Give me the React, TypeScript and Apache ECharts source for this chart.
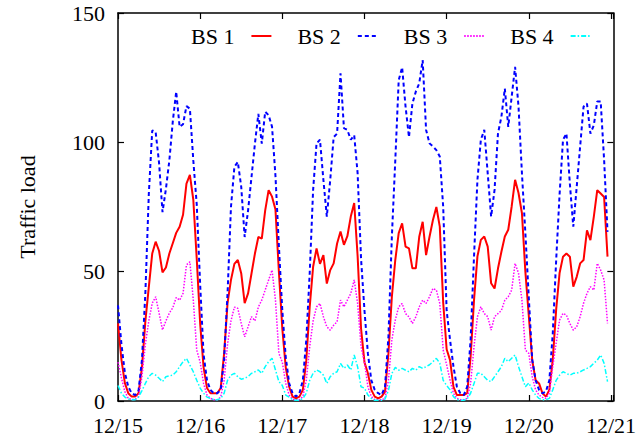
import React, { useEffect, useRef } from "react";
import * as echarts from "echarts";

// Hourly samples, 12/15 00:00 onwards (one row per day)
const dayLabels = ["12/15", "12/16", "12/17", "12/18", "12/19", "12/20", "12/21"];
const seriesNames = ["BS 1", "BS 2", "BS 3", "BS 4"];

const bs1 = [
  30, 16, 7, 3, 1.7, 1.7, 3, 13, 31, 44, 57, 61.6, 58, 49.7, 51.6, 57, 61, 65, 67.4, 72, 84, 87.4, 77.8, 55,
  30, 13, 5, 3, 3, 3, 5, 18.4, 37.8, 46.8, 53, 54.5, 49.3, 37.8, 41.6, 49.3, 57, 63.4, 62.8, 73.7, 81.5, 79, 74, 50,
  28, 13, 5.5, 1.7, 1, 1.7, 4.3, 15.8, 36.4, 51.9, 59, 53, 56.4, 45.4, 50.6, 53.2, 60.9, 65.5, 60.4, 63.7, 71.3, 76.5, 56, 28,
  15, 10.7, 4.3, 1.7, 1, 1.7, 3.6, 18.4, 40.3, 54.5, 64.9, 68.7, 59.7, 59, 51.3, 51.3, 63.5, 69.3, 56.4, 63.5, 70, 75, 67.4, 38,
  20, 15.8, 5.5, 2.3, 2.3, 2.3, 3, 17, 39, 55.9, 62.3, 63.6, 59.7, 45.5, 43.5, 51.2, 57.7, 63.6, 66.2, 75.2, 85.5, 80.4, 72.6, 50,
  33, 15.8, 8, 6.8, 3, 1.7, 4.3, 16, 35.4, 49.5, 55.8, 57, 55.8, 44.2, 48, 53.2, 54.5, 66, 62.2, 71.3, 81.5, 80.2, 78.9, 55.8,
];

const bs2 = [
  37, 22, 11, 5.5, 3, 2.3, 4, 16, 42, 80, 104.6, 104, 92, 73, 82, 93, 108, 119.6, 106, 107, 114, 113, 93, 76,
  45, 18, 8, 4.3, 3, 3, 4.3, 16, 41.6, 75, 90.5, 92.4, 82.8, 63.4, 73.7, 86.6, 99.5, 111, 99.5, 111.8, 110.5, 106, 87, 60,
  35, 17, 6.8, 3, 1.7, 3, 8, 23.6, 49.4, 81.6, 99.6, 101, 85.5, 71.3, 85.5, 102, 103.4, 126.7, 105.5, 104.8, 101, 102.8, 88, 55,
  35, 18.4, 8, 4.3, 3, 2.3, 5.5, 24.9, 63.5, 93, 124, 129, 113.8, 102, 115, 119.6, 122.8, 131.8, 104.8, 99.6, 98.4, 97, 94.5, 75,
  35, 23.6, 13.3, 5.5, 3, 2.3, 5.5, 23.6, 55.9, 85.5, 101, 104.8, 88, 71.3, 81.6, 103.4, 109.9, 120.8, 106, 117.6, 129.2, 113.8, 88, 65,
  40, 16, 8, 4.3, 3, 3.6, 8, 26, 54.5, 80, 101, 103.4, 84, 67.4, 82.8, 98.4, 113.8, 115, 103.4, 106.6, 115.8, 115.8, 93.3, 65.4,
];

const bs3 = [
  15, 9, 3.6, 1, 0.6, 0.6, 1.7, 9.4, 22, 31, 37.8, 40.3, 34, 27.5, 31, 34, 36, 40, 39, 41.6, 52.6, 53.8, 39, 19.7,
  15, 6.8, 2.3, 1, 0.5, 0.5, 1.5, 8, 22, 31, 36.3, 35.8, 30, 24.8, 28.7, 32.6, 31, 36.3, 39, 42.9, 46.8, 50.6, 39, 18.4,
  15, 6.8, 2.3, 0.6, 0.5, 0.5, 1.7, 8, 21, 31, 36.4, 37.7, 32.6, 28.7, 27.4, 29.3, 30.6, 39, 36.4, 39, 41.6, 46.8, 37.7, 21,
  15, 5.5, 1.7, 0.5, 0.5, 0.5, 1, 8, 23.6, 31.3, 36.4, 37.7, 33.8, 32.5, 30, 32.5, 36.4, 39, 37.7, 40.3, 43.5, 42.9, 37.7, 19.7,
  14, 8, 3, 1, 0.5, 0.5, 1, 6.8, 21, 32.6, 36.4, 33.8, 32.6, 27.4, 32.6, 33.8, 35, 39, 40.3, 42.9, 53.2, 49.4, 39, 19.7,
  18.4, 9.4, 4.3, 2.3, 1.4, 1, 3, 13.3, 22.4, 31.3, 33.9, 33.2, 30, 27.4, 28.7, 32.6, 37.8, 41.6, 44.2, 42.9, 53.2, 50.6, 46.8, 30,
];

const bs4 = [
  6, 3, 1.5, 0.8, 0.5, 0.5, 1.5, 4, 6.8, 9.4, 10.7, 10, 8.8, 7.5, 9.4, 9.7, 10, 11.3, 13.3, 15.2, 16.5, 13.9, 11.3, 8,
  5, 3, 1.5, 1, 0.5, 0.5, 1, 3, 8, 10, 10.7, 9.4, 8.4, 8.8, 9.4, 10.7, 11.3, 12, 10.7, 13.3, 15.2, 16.5, 12, 7.5,
  6, 2.3, 1.5, 0.5, 0.3, 0.3, 1, 3, 8, 10.7, 12, 11.3, 10, 6.8, 9.4, 10.7, 11.3, 14.5, 12.6, 13.9, 12, 17.8, 13.2, 5.5,
  5, 2.3, 1, 0.3, 0.3, 0.3, 0.8, 4, 10.7, 13, 11.9, 12.6, 11.9, 11.3, 12.6, 11.9, 13.3, 12.6, 13.3, 14, 15.2, 16.5, 14.6, 8,
  6, 4.3, 1.7, 0.5, 0.3, 0.3, 0.8, 3, 6.8, 10.7, 10.7, 9.4, 8, 7.5, 9.4, 11.3, 13.3, 16.5, 15.2, 16.5, 17.8, 13.3, 9.4, 5.5,
  7, 4.3, 2.3, 1, 0.5, 0.5, 1, 4.3, 8, 10, 11.3, 10.7, 10, 10.7, 10.7, 11.3, 12, 12.6, 13.3, 14.6, 15.8, 17.8, 14.6, 7.5,
];

const FONT = "'Liberation Serif', 'Times New Roman', Tinos, serif";

export default function App() {
  const ref = useRef<HTMLDivElement>(null);

  useEffect(() => {
    if (!ref.current) return;
    const chart = echarts.init(ref.current, undefined, { renderer: "svg" });
    const toData = (arr: number[]) => arr.map((v, i) => [i, v]);
    const axisLine = { show: true, onZero: false, lineStyle: { color: "#000", width: 1.5 } };
    const tick = { show: true, inside: true, length: 6, lineStyle: { color: "#000", width: 1.2 } };
    const xBase = { type: "value", min: 0, max: 144.7, interval: 24, splitLine: { show: false }, axisLine, axisTick: tick };
    const yBase = { type: "value", min: 0, max: 150, interval: 50, splitLine: { show: false }, axisLine, axisTick: tick };
    const lineCommon = { type: "line", showSymbol: false, symbol: "none", smooth: false };

    chart.setOption({
      animation: false,
      backgroundColor: "#fff",
      grid: { left: 118, right: 22, top: 13, bottom: 39 },
      legend: {
        left: 186,
        top: 20,
        align: "right",
        itemWidth: 20,
        itemHeight: 10,
        itemGap: 25,
        itemStyle: { opacity: 0, borderWidth: 0 },
        textStyle: { fontFamily: FONT, fontSize: 22, color: "#000", padding: [0, 12, 0, 0] },
        data: seriesNames,
      },
      xAxis: [
        {
          ...xBase,
          position: "bottom",
          axisLabel: {
            fontFamily: FONT,
            fontSize: 22,
            lineHeight: 17,
            color: "#000",
            margin: 16,
            formatter: (v: number) => (Math.abs(v % 24) < 1e-6 ? dayLabels[Math.round(v / 24)] : ""),
          },
        },
        { ...xBase, position: "top", axisLabel: { show: false } },
      ],
      yAxis: [
        {
          ...yBase,
          position: "left",
          name: "Traffic load",
          nameLocation: "middle",
          nameGap: 80,
          nameTextStyle: { fontFamily: FONT, fontSize: 22, color: "#000" },
          axisLabel: { fontFamily: FONT, fontSize: 22, lineHeight: 16, color: "#000", margin: 13 },
        },
        { ...yBase, position: "right", axisLabel: { show: false } },
      ],
      series: [
        { ...lineCommon, name: seriesNames[0], data: toData(bs1), color: "#ff0000", lineStyle: { color: "#ff0000", width: 2, type: "solid" } },
        { ...lineCommon, name: seriesNames[1], data: toData(bs2), color: "#0000ff", lineStyle: { color: "#0000ff", width: 2, type: [4, 3] } },
        { ...lineCommon, name: seriesNames[2], data: toData(bs3), color: "#ff00ff", lineStyle: { color: "#ff00ff", width: 1.5, type: [1.5, 1.5] } },
        { ...lineCommon, name: seriesNames[3], data: toData(bs4), color: "#00ffff", lineStyle: { color: "#00ffff", width: 1.5, type: [5, 2, 1.5, 2] } },
      ],
    });
    return () => chart.dispose();
  }, []);

  return (
    <div
      ref={ref}
      style={{ position: "fixed", left: 0, top: 0, width: 639, height: 440, background: "#fff" }}
    />
  );
}
